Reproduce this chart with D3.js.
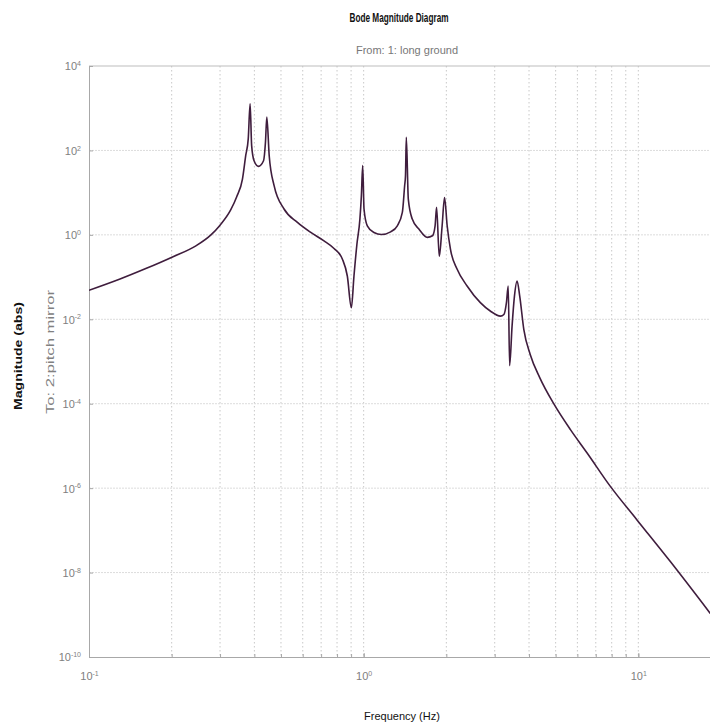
<!DOCTYPE html>
<html>
<head>
<meta charset="utf-8">
<script src="https://cdn.jsdelivr.net/npm/d3@7"></script>
<style>
  body { margin: 0; background: #fff; }
  svg { display: block; overflow: hidden; }
  .lbl { font-family: "Liberation Sans", Arial, sans-serif; }
</style>
</head>
<body>
<div id="chart"></div>
<script>
// ------------------------- data
var freqHz = [0.1, 0.129, 0.161, 0.2014, 0.245, 0.278, 0.3, 0.328, 0.345, 0.362, 0.372, 0.380, 0.386,
    0.391, 0.399, 0.414, 0.432, 0.439, 0.444, 0.453, 0.472, 0.513, 0.574, 0.642, 0.717, 0.780, 0.837,
    0.872, 0.902, 0.922, 0.945, 0.969, 0.981, 0.992, 1.003, 1.031, 1.09, 1.16, 1.254, 1.326, 1.383,
    1.41, 1.42, 1.43, 1.454, 1.503, 1.589, 1.705, 1.78, 1.82, 1.843, 1.885, 1.93, 1.97, 2.014, 2.07,
    2.19, 2.38, 2.66, 2.89, 3.15, 3.24, 3.31, 3.36, 3.40, 3.47, 3.54, 3.62, 3.70, 3.83, 4.04, 4.38,
    4.92, 5.66, 6.51, 7.91, 9.89, 13.1, 18.3];
var magnitude = [0.0486, 0.0887, 0.159, 0.30, 0.55, 1.0, 1.7, 3.9, 8.0, 21, 75, 188, 1270,
    130, 57, 42, 57, 156, 615, 75, 14.6, 4.1, 1.97, 1.14, 0.72, 0.475, 0.265,
    0.106, 0.0188, 0.106, 0.6, 2.36, 8.4, 43.6, 4.1, 1.64, 1.14, 1.02, 1.18, 1.64, 3.4,
    14.6, 25, 205, 7.0, 2.36, 1.37, 0.87, 0.95, 1.64, 4.5, 0.307, 1.6, 7.7, 1.64, 0.457,
    0.153, 0.0616, 0.0248, 0.0157, 0.0119, 0.013, 0.0248, 0.0616, 0.0008, 0.0069, 0.0355, 0.081, 0.0355, 0.0057, 0.00147, 0.00041,
    1e-4, 2.43e-5, 6.8e-6, 1.1e-6, 1.77e-7, 1.8e-8, 1.07e-9];

var yTickExp = [4, 2, 0, -2, -4, -6, -8, -10];
var xTickExp = [-1, 0, 1];
var xGridValues = [0.2, 0.3, 0.4, 0.5, 0.6, 0.7, 0.8, 0.9, 1, 2, 3, 4, 5, 6, 7, 8, 9, 10];

var titleText = "Bode Magnitude Diagram";
var fromText = "From: 1: long ground";
var toText = "To: 2:pitch mirror";
var yLabelText = "Magnitude (abs)";
var xLabelText = "Frequency (Hz)";

function drawChart() {
    var svgWidth = 710;
    var svgHeight = 728;
    var left = 89, right = 721, top = 66, bottom = 657;

    var svg = d3.select('#chart').append('svg')
        .attr('width', svgWidth)
        .attr('height', svgHeight);

    var x = d3.scaleLog().domain([0.1, 20]).range([left, right]);
    var y = d3.scaleLog().domain([1e-10, 1e4]).range([bottom, top]);

    svg.append('clipPath').attr('id', 'plotclip')
        .append('rect')
        .attr('x', left).attr('y', top)
        .attr('width', right - left).attr('height', bottom - top);

    // grid
    var grid = svg.append('g');
    grid.selectAll('.vg')
        .data(xGridValues)
        .enter().append('line')
        .attr('x1', function(d) { return x(d); })
        .attr('x2', function(d) { return x(d); })
        .attr('y1', top).attr('y2', bottom)
        .attr('stroke', '#c8c8c8')
        .attr('stroke-width', 1)
        .attr('stroke-dasharray', '1.5,2.5');
    grid.selectAll('.hg')
        .data(yTickExp.slice(1, -1))
        .enter().append('line')
        .attr('x1', left).attr('x2', right)
        .attr('y1', function(d) { return y(Math.pow(10, d)); })
        .attr('y2', function(d) { return y(Math.pow(10, d)); })
        .attr('stroke', '#dcdcdc')
        .attr('stroke-width', 1)
        .attr('stroke-dasharray', '2,1');

    // frame
    svg.append('line').attr('x1', left).attr('x2', right).attr('y1', top).attr('y2', top)
        .attr('stroke', '#bdbdbd');

    // y axis
    var yAxis = svg.append('g')
        .attr('transform', 'translate(' + left + ',0)')
        .call(d3.axisLeft(y)
            .tickValues(yTickExp.map(function(e) { return Math.pow(10, e); }))
            .tickSizeInner(-4).tickSizeOuter(0)
            .tickFormat(''));
    yAxis.select('.domain').attr('stroke', '#a8a8a8');
    yAxis.selectAll('.tick line').attr('stroke', '#a8a8a8');
    yAxis.selectAll('.tick').each(function(d, i) {
        var t = d3.select(this).select('text')
            .attr('class', 'lbl')
            .style('fill', '#808080')
            .style('font-size', '11px')
            .attr('x', -8)
            .attr('dy', '0.35em');
        t.append('tspan').text('10');
        t.append('tspan').attr('dy', '-0.6em').style('font-size', '7px').text(yTickExp[i]);
    });

    // x axis, minor ticks first
    var xMinor = svg.append('g')
        .attr('transform', 'translate(0,' + bottom + ')')
        .call(d3.axisBottom(x)
            .tickValues(xGridValues)
            .tickSizeInner(-3).tickSizeOuter(0)
            .tickFormat(''));
    xMinor.select('.domain').remove();
    xMinor.selectAll('.tick line').attr('stroke', '#a8a8a8');

    var xAxis = svg.append('g')
        .attr('transform', 'translate(0,' + bottom + ')')
        .call(d3.axisBottom(x)
            .tickValues(xTickExp.map(function(e) { return Math.pow(10, e); }))
            .tickSizeInner(-4).tickSizeOuter(0)
            .tickFormat(''));
    xAxis.select('.domain').attr('stroke', '#a8a8a8');
    xAxis.selectAll('.tick line').attr('stroke', '#a8a8a8');
    xAxis.selectAll('.tick').each(function(d, i) {
        var t = d3.select(this).select('text')
            .attr('class', 'lbl')
            .style('fill', '#808080')
            .style('font-size', '11px')
            .attr('y', 19)
            .attr('dy', '0.35em')
            .attr('text-anchor', 'middle');
        t.append('tspan').text('10');
        t.append('tspan').attr('dy', '-0.6em').style('font-size', '7px').text(xTickExp[i]);
    });

    // curve
    var points = freqHz.map(function(f, i) { return [f, magnitude[i]]; });
    var line = d3.line()
        .x(function(d) { return x(d[0]); })
        .y(function(d) { return y(d[1]); })
        .curve(d3.curveMonotoneX);
    svg.append('path')
        .datum(points)
        .attr('clip-path', 'url(#plotclip)')
        .attr('d', line)
        .attr('fill', 'none')
        .attr('stroke', '#3f1d3d')
        .attr('stroke-width', 1.6)
        .attr('stroke-linejoin', 'round');

    // texts (the reference is squeezed horizontally, so stretch with textLength)
    svg.append('text').attr('class', 'lbl')
        .attr('x', 399).attr('y', 22)
        .attr('text-anchor', 'middle')
        .attr('textLength', 99).attr('lengthAdjust', 'spacingAndGlyphs')
        .style('font-size', '12px').style('font-weight', 'bold')
        .attr('fill', '#111')
        .text(titleText);
    svg.append('text').attr('class', 'lbl')
        .attr('x', 407).attr('y', 54)
        .attr('text-anchor', 'middle')
        .style('font-size', '11px')
        .attr('fill', '#777')
        .text(fromText);
    svg.append('text').attr('class', 'lbl')
        .attr('transform', 'translate(54,352) rotate(-90)')
        .attr('text-anchor', 'middle')
        .attr('textLength', 124).attr('lengthAdjust', 'spacingAndGlyphs')
        .style('font-size', '11px')
        .attr('fill', '#808080')
        .text(toText);
    svg.append('text').attr('class', 'lbl')
        .attr('transform', 'translate(22,356) rotate(-90)')
        .attr('text-anchor', 'middle')
        .attr('textLength', 108).attr('lengthAdjust', 'spacingAndGlyphs')
        .style('font-size', '11px').style('font-weight', 'bold')
        .attr('fill', '#111')
        .text(yLabelText);
    svg.append('text').attr('class', 'lbl')
        .attr('x', 402).attr('y', 720)
        .attr('text-anchor', 'middle')
        .style('font-size', '11px')
        .attr('fill', '#111')
        .text(xLabelText);
}

drawChart();
</script>
</body>
</html>
